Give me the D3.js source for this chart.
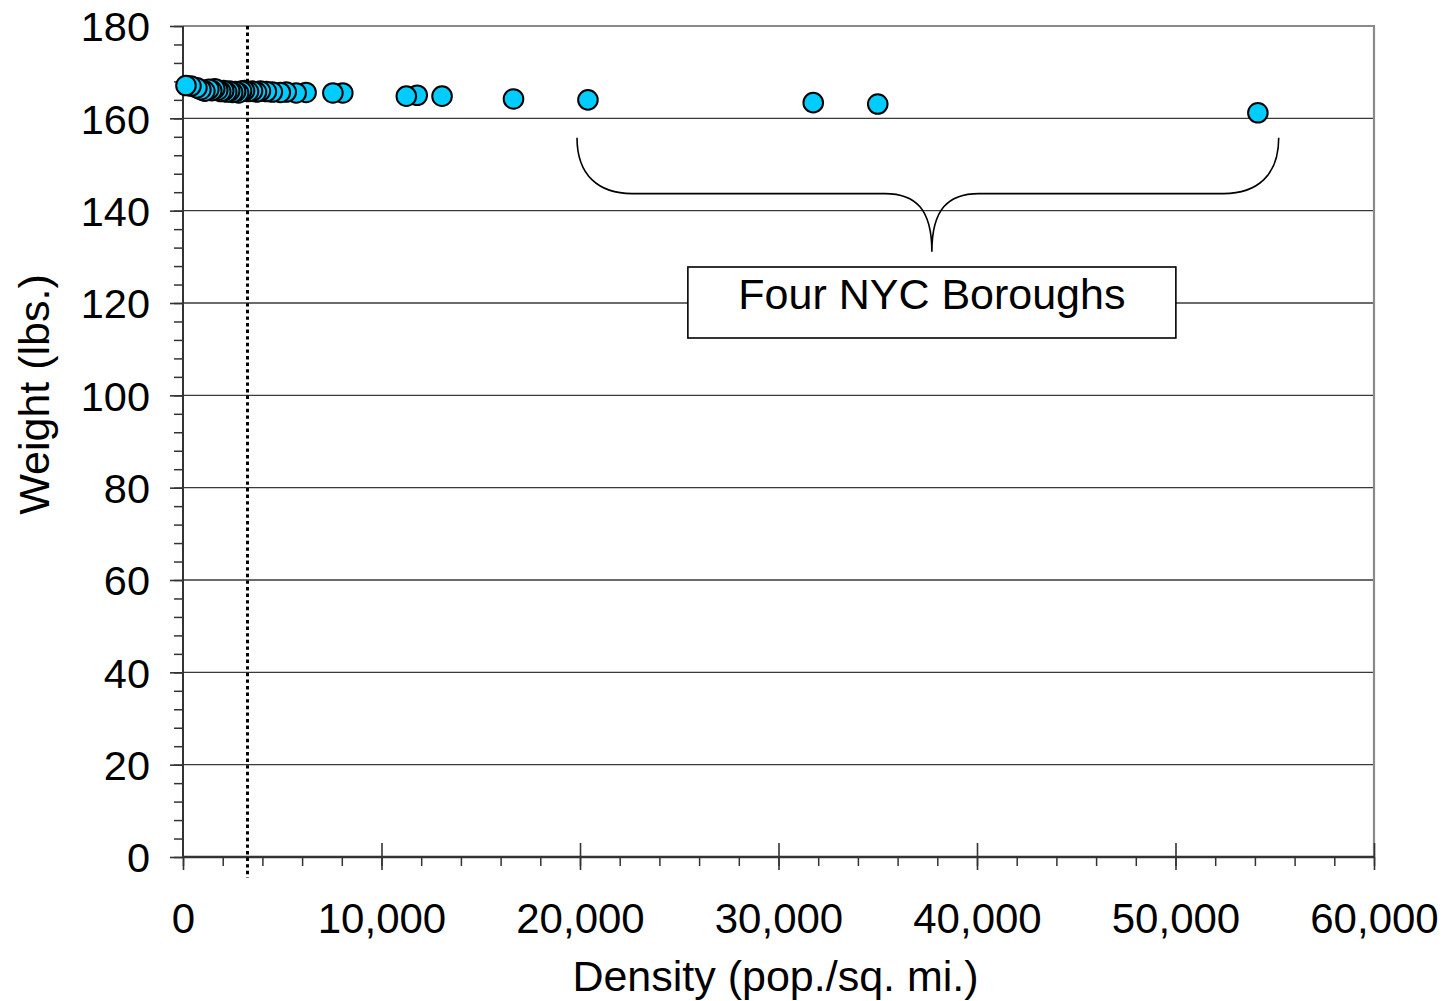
<!DOCTYPE html>
<html>
<head>
<meta charset="utf-8">
<script src="https://cdn.jsdelivr.net/npm/d3@7"></script>
<style>
  html, body { margin: 0; padding: 0; background: #fff; }
  svg { display: block; font-family: "Liberation Sans", Arial, sans-serif; }
</style>
</head>
<body>
<svg id="chart" width="1447" height="1001"></svg>
<script>
// Population density (pop./sq. mi.) by county
const density = [150, 400, 700, 900, 1100, 1300, 1450, 1600, 1750, 1900, 2050, 2200,
  2350, 2500, 2650, 2800, 2950, 3100, 3300, 3500, 3700, 3900, 4200, 4500, 4900,
  5200, 5700, 6200, 7550, 8050, 11250, 11800, 13050, 16650, 20400, 31750, 35000, 54150];
// Average weight (lbs.) for each county
const weight = [167.1, 167.0, 166.6, 166.2, 165.9, 166.3, 166.0, 166.4, 166.1, 165.8,
  166.0, 165.7, 165.9, 165.6, 165.8, 165.5, 165.9, 166.0, 165.8, 165.9, 165.7, 165.9,
  165.8, 165.7, 165.6, 165.7, 165.5, 165.6, 165.5, 165.5, 164.8, 165.0, 164.8, 164.2,
  164.0, 163.4, 163.1, 161.2];

const xTicks = [0, 10000, 20000, 30000, 40000, 50000, 60000];
const yTicks = [0, 20, 40, 60, 80, 100, 120, 140, 160, 180];
const refDensity = 3220;              // dotted reference line
const braceRange = [19850, 55200];    // densities spanned by the brace
const braceLevels = [155.8, 143.7, 131.1]; // brace ends, brace shoulder, brace tip (lbs.)
const noteLabel = "Four NYC Boroughs";
const noteLevel = 120;                // box sits on this gridline

const svg = d3.select("#chart");
const x = d3.scaleLinear().domain([0, 60000]).range([183, 1374]);
const y = d3.scaleLinear().domain([0, 180]).range([857, 26]);

// gridlines
svg.append("g").selectAll("line").data(yTicks.filter(v => v > 0 && v < 180)).join("line")
  .attr("x1", x(0)).attr("x2", x(60000))
  .attr("y1", d => y(d)).attr("y2", d => y(d))
  .attr("stroke", "#3a3a3a").attr("stroke-width", 1.4);

// plot frame (top and right)
svg.append("path")
  .attr("d", `M${x(0)},${y(180)} L${x(60000)},${y(180)} L${x(60000)},${y(0)}`)
  .attr("fill", "none").attr("stroke", "#8a8a8a").attr("stroke-width", 2.2);

// y axis: minor ticks
const minorY = d3.range(0, 181, 4);
svg.append("g").attr("transform", `translate(${x(0)},0)`)
  .call(d3.axisLeft(y).tickValues(minorY).tickSize(9).tickFormat(""))
  .call(g => g.select(".domain").remove())
  .selectAll("line").attr("stroke", "#333").attr("stroke-width", 1.5);

// y axis: major ticks and labels
const yAxis = svg.append("g").attr("transform", `translate(${x(0)},0)`)
  .call(d3.axisLeft(y).tickValues(yTicks).tickSize(13).tickPadding(20).tickFormat(d3.format("d")));
yAxis.select(".domain").remove();
yAxis.selectAll("line").attr("stroke", "#333").attr("stroke-width", 1.6);
yAxis.selectAll("text").attr("font-size", 41.5).attr("fill", "#000")
  .attr("font-family", "Liberation Sans, Arial, sans-serif").attr("dy", "0.36em");

// x axis: minor ticks
const minorX = d3.range(0, 60001, 2000);
svg.append("g").attr("transform", `translate(0,${y(0)})`)
  .call(d3.axisBottom(x).tickValues(minorX).tickSize(9).tickFormat(""))
  .call(g => g.select(".domain").remove())
  .selectAll("line").attr("stroke", "#333").attr("stroke-width", 1.5);

// x axis: major ticks (crossing the axis) and labels
const xAxis = svg.append("g").attr("transform", `translate(0,${y(0)})`)
  .call(d3.axisBottom(x).tickValues(xTicks).tickSize(13).tickPadding(33).tickFormat(d3.format(",")));
xAxis.select(".domain").remove();
xAxis.selectAll("line").attr("y1", d => d === 0 ? 0 : -14).attr("stroke", "#333").attr("stroke-width", 1.6);
xAxis.selectAll("text").attr("font-size", 42).attr("fill", "#000")
  .attr("font-family", "Liberation Sans, Arial, sans-serif");

// axis lines
svg.append("line").attr("x1", x(0)).attr("x2", x(0)).attr("y1", y(180)).attr("y2", y(0))
  .attr("stroke", "#333").attr("stroke-width", 2);
svg.append("line").attr("x1", x(0)).attr("x2", x(60000)).attr("y1", y(0)).attr("y2", y(0))
  .attr("stroke", "#333").attr("stroke-width", 2.4);

// dotted reference line
const refX = Math.round(x(refDensity)) + 0.5;
svg.append("line")
  .attr("x1", refX).attr("x2", refX)
  .attr("y1", y(180)).attr("y2", y(0) + 21)
  .attr("stroke", "#000").attr("stroke-width", 3).attr("stroke-dasharray", "3.4,3.2");

// points, drawn so that lower densities sit on top
const pts = density.map((d, i) => ({ d, w: weight[i] })).sort((a, b) => b.d - a.d);
svg.append("g").selectAll("circle").data(pts).join("circle")
  .attr("cx", p => x(p.d)).attr("cy", p => y(p.w)).attr("r", 9.8)
  .attr("fill", "#00CCFF").attr("stroke", "#000").attr("stroke-width", 2);

// brace over the four boroughs
const bx0 = x(braceRange[0]), bx1 = x(braceRange[1]);
const bTop = y(braceLevels[0]), bMid = y(braceLevels[1]), bTip = y(braceLevels[2]);
const bxc = (bx0 + bx1) / 2 + 4;
const brace = [
  `M${bx0},${bTop}`,
  `C${bx0},${bTop + 38} ${bx0 + 22},${bMid} ${bx0 + 55},${bMid}`,
  `L${bxc - 47},${bMid}`,
  `C${bxc - 16},${bMid} ${bxc},${bMid + 16} ${bxc},${bTip}`,
  `C${bxc},${bMid + 16} ${bxc + 16},${bMid} ${bxc + 47},${bMid}`,
  `L${bx1 - 55},${bMid}`,
  `C${bx1 - 22},${bMid} ${bx1},${bTop + 38} ${bx1},${bTop}`
].join(" ");
svg.append("path").attr("d", brace).attr("fill", "none")
  .attr("stroke", "#000").attr("stroke-width", 1.6);

// label box
const boxW = 488, boxH = 71;
const boxCx = bxc;
const boxCy = y(noteLevel);
svg.append("rect")
  .attr("x", boxCx - boxW / 2).attr("y", boxCy - 36).attr("width", boxW).attr("height", boxH)
  .attr("fill", "#fff").attr("stroke", "#000").attr("stroke-width", 1.6);
svg.append("text").attr("x", boxCx).attr("y", boxCy + 6)
  .attr("text-anchor", "middle").attr("font-size", 43).attr("fill", "#000")
  .text(noteLabel);

// axis titles
svg.append("text").attr("x", (x(0) + x(60000)) / 2 - 3).attr("y", 991)
  .attr("text-anchor", "middle").attr("font-size", 43).attr("fill", "#000")
  .text("Density (pop./sq. mi.)");
svg.append("text").attr("transform", `translate(49,${(y(0) + y(180)) / 2 - 47}) rotate(-90)`)
  .attr("text-anchor", "middle").attr("font-size", 43).attr("fill", "#000")
  .text("Weight (lbs.)");
</script>
</body>
</html>
